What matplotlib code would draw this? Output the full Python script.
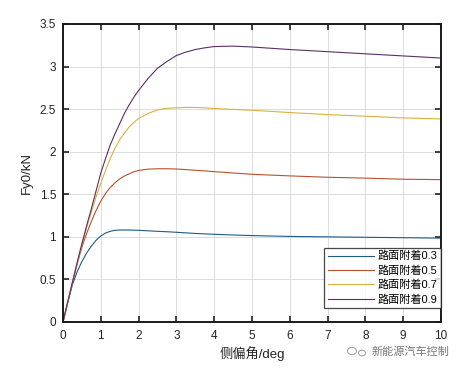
import matplotlib
matplotlib.use("Agg")
import matplotlib.pyplot as plt
from matplotlib.patches import Circle

plt.rcParams['font.family'] = ['Liberation Sans', 'Noto Sans CJK SC', 'DejaVu Sans']

x = [0, 0.125, 0.25, 0.375, 0.5, 0.625, 0.75, 0.875, 1, 1.125, 1.25, 1.375, 1.5, 1.625, 1.75, 1.875,
     2, 2.25, 2.5, 2.75, 3, 3.25, 3.5, 3.75, 4, 4.5, 5, 6, 7, 8, 9, 10]
mu03 = [0, 0.228, 0.44, 0.59, 0.71, 0.81, 0.89, 0.96, 1.01, 1.045, 1.065, 1.077, 1.08, 1.081, 1.08, 1.079,
        1.077, 1.071, 1.065, 1.06, 1.054, 1.047, 1.04, 1.035, 1.03, 1.022, 1.015, 1.005, 1.0, 0.995, 0.99, 0.985]
mu05 = [0, 0.23, 0.46, 0.68, 0.88, 1.04, 1.18, 1.31, 1.42, 1.51, 1.58, 1.635, 1.68, 1.715, 1.74, 1.765,
        1.78, 1.795, 1.80, 1.80, 1.797, 1.79, 1.782, 1.775, 1.766, 1.75, 1.735, 1.716, 1.70, 1.69, 1.677, 1.672]
mu07 = [0, 0.235, 0.47, 0.69, 0.91, 1.11, 1.29, 1.47, 1.63, 1.78, 1.92, 2.04, 2.14, 2.22, 2.29, 2.345,
        2.39, 2.45, 2.49, 2.51, 2.515, 2.52, 2.52, 2.515, 2.507, 2.497, 2.487, 2.46, 2.436, 2.417, 2.397, 2.385]
mu09 = [0, 0.235, 0.47, 0.70, 0.92, 1.13, 1.33, 1.54, 1.75, 1.92, 2.08, 2.21, 2.33, 2.45, 2.55, 2.64,
        2.72, 2.86, 2.98, 3.06, 3.13, 3.17, 3.20, 3.22, 3.235, 3.24, 3.23, 3.20, 3.175, 3.15, 3.125, 3.10]
labels = ['路面附着0.3', '路面附着0.5', '路面附着0.7', '路面附着0.9']
xticks = list(range(0, 11))
yticks = [0, 0.5, 1, 1.5, 2, 2.5, 3, 3.5]
ytick_labels = ['0', '0.5', '1', '1.5', '2', '2.5', '3', '3.5']
xlabel = '侧偏角/deg'
ylabel = 'Fy0/kN'
watermark = '新能源汽车控制'

colors = ['#1f5a85', '#b8502e', '#dcb040', '#5b2f66']

fig = plt.figure(figsize=(4.61, 3.71), dpi=100)
ax = fig.add_axes([63/461, 1-322/371, (441-63)/461, (322-24)/371])

for ys, c, lab in zip([mu03, mu05, mu07, mu09], colors, labels):
    ax.plot(x, ys, color=c, lw=0.8, label=lab)

ax.set_xlim(0, 10)
ax.set_ylim(0, 3.5)
ax.set_xticks(xticks)
ax.set_yticks(yticks)
ax.set_yticklabels(ytick_labels)
ax.grid(True, color='#dcdcdc', lw=0.7)
ax.set_axisbelow(True)
ax.tick_params(direction='in', top=True, right=True, length=4, width=1.2,
               labelsize=8.5, colors='#222222')
ax.tick_params(axis='x', pad=6)
ax.tick_params(axis='y', pad=5)
for s in ax.spines.values():
    s.set_linewidth(1.4)
    s.set_color('#1a1a1a')
ax.set_xlabel(xlabel, fontsize=9.5, color='#222222', labelpad=3)
ax.set_ylabel(ylabel, fontsize=9.5, color='#222222', labelpad=5)

leg = ax.legend(loc='lower right', fontsize=8, frameon=True, fancybox=False,
                edgecolor='#1a1a1a', borderpad=0.3, labelspacing=0.35,
                handlelength=4.2, handletextpad=0.3, borderaxespad=0.0,
                bbox_to_anchor=(1.0, 14/298))
leg.get_frame().set_linewidth(0.9)

fig.text(372/461, 1-352/371, watermark, fontsize=8, color='#777777', va='center', ha='left')
# small chat icon before the watermark
fig.patches.append(Circle((352/461, 1-351/371), 4.5/461, transform=fig.transFigure,
                          fill=False, ec='#999999', lw=0.7))
fig.patches.append(Circle((362/461, 1-353/371), 3.5/461, transform=fig.transFigure,
                          fill=False, ec='#999999', lw=0.7))

fig.savefig('out.png', dpi=100)
